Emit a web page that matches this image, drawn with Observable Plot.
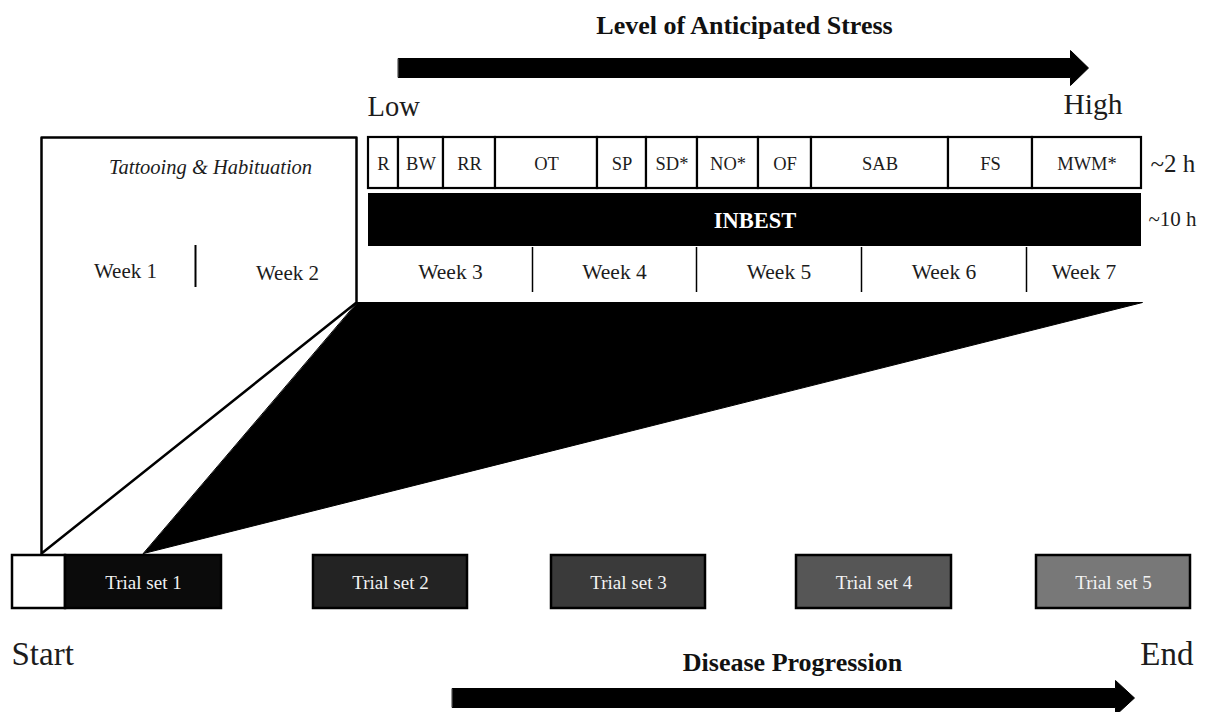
<!DOCTYPE html>
<html><head><meta charset="utf-8">
<script src="https://cdn.jsdelivr.net/npm/d3@7"></script>
<script src="https://cdn.jsdelivr.net/npm/@observablehq/plot@0.6"></script>
<style>body{margin:0;background:#fff;} svg{display:block;}</style>
</head><body><div id="chart"></div>
<script>
// ---- content ----
const stressTests = ["R","BW","RR","OT","SP","SD*","NO*","OF","SAB","FS","MWM*"];
const earlyWeeks = ["Week 1","Week 2"];
const lateWeeks = ["Week 3","Week 4","Week 5","Week 6","Week 7"];
const trialSets = ["Trial set 1","Trial set 2","Trial set 3","Trial set 4","Trial set 5"];
const trialShades = ["#0b0b0b","#232323","#3a3a3a","#565656","#787878"];
const stressLabels = ["Low","High"];
const progressLabels = ["Start","End"];
const durations = ["~2 h","~10 h"];
const battery = "INBEST";
const phase = "Tattooing & Habituation";
const stressTitle = "Level of Anticipated Stress";
const progressTitle = "Disease Progression";

// ---- layout (pixel frame) ----
const stressEdges = [368,398,443,495,597,646,697,758,811,948,1032,1141];
const weekEdges = [368,532,696,861,1026,1141];
const trialX = [[65,221],[313,467],[551,705],[796,951],[1036,1190]];

const stressBoxes = stressTests.map((t,i)=>({t,x1:stressEdges[i],x2:stressEdges[i+1]}));
const weekCells = lateWeeks.map((t,i)=>({t,x1:weekEdges[i],x2:weekEdges[i+1]}));
const trials = trialSets.map((t,i)=>({t,x1:trialX[i][0],x2:trialX[i][1],fill:trialShades[i]}));

const poly = (pts,id)=>pts.map(([x,y])=>({x,y,id}));
const shapes = [
  ...poly([[398,58],[1070,58],[1070,50],[1088,67.5],[1070,85],[1070,77],[398,77]],"a1"),
  ...poly([[452,688],[1115,688],[1115,680],[1134,697.5],[1115,715],[1115,707],[452,707]],"a2"),
  ...poly([[357,302],[1142,302],[143,553]],"tri")
];

const serif = "'Liberation Serif','Times New Roman',serif";
const ink = "#1c1c1c";

const chart = Plot.plot({
  width:1210, height:712, margin:0,
  x:{domain:[0,1210], range:[0,1210], axis:null},
  y:{domain:[0,712], range:[0,712], axis:null},
  style:{fontFamily:serif, background:"#fff"},
  marks:[
    // block arrows and black wedge
    Plot.line(shapes,{x:"x",y:"y",z:"id",fill:"#000",stroke:"#000",strokeWidth:1,curve:"linear-closed"}),
    // left phase box (open bottom)
    Plot.line([{x:41,y:553},{x:41,y:137},{x:356,y:137},{x:356,y:302},{x:41,y:553}],{x:"x",y:"y",stroke:"#000",strokeWidth:2.5}),
    Plot.ruleX([195],{y1:245,y2:287,stroke:"#000",strokeWidth:2}),
    Plot.text([phase],{x:210,y:167,text:d=>d,fontStyle:"italic",fontSize:20.5,fill:ink}),
    Plot.text(earlyWeeks,{x:[125,287],y:[271,273],text:d=>d,fontSize:21,fill:ink}),
    // stress tests row
    Plot.rect(stressBoxes,{x1:"x1",x2:"x2",y1:137,y2:188,fill:"#fff",stroke:"#000",strokeWidth:2.2}),
    Plot.text(stressBoxes,{x:d=>(d.x1+d.x2)/2,y:164,text:"t",fontSize:18.5,fill:ink}),
    // INBEST bar
    Plot.rect([battery],{x1:368,x2:1141,y1:193,y2:246,fill:"#000"}),
    Plot.text([battery],{x:(368+1141)/2,y:220,text:d=>d,fontSize:22.5,fontWeight:"bold",fill:"#fff"}),
    // weeks 3-7
    Plot.ruleX(weekEdges.slice(1,-1),{y1:247,y2:292,stroke:"#000",strokeWidth:1.5}),
    Plot.text(weekCells,{x:d=>(d.x1+d.x2)/2,y:272,text:"t",fontSize:21.5,fill:ink}),
    // durations
    Plot.text([durations[0]],{x:1150,y:163,text:d=>d,textAnchor:"start",fontSize:25,fill:ink}),
    Plot.text([durations[1]],{x:1148,y:219,text:d=>d,textAnchor:"start",fontSize:21,fill:ink}),
    // stress labels
    Plot.text([stressLabels[0]],{x:367,y:106,text:d=>d,textAnchor:"start",fontSize:28.5,fill:ink}),
    Plot.text([stressLabels[1]],{x:1122,y:104,text:d=>d,textAnchor:"end",fontSize:29.5,fill:ink}),
    Plot.text([stressTitle],{x:744,y:25,text:d=>d,fontSize:26,fontWeight:"bold",fill:"#111"}),
    // trial sets
    Plot.rect([0],{x1:12,x2:65,y1:555,y2:608,fill:"#fff",stroke:"#000",strokeWidth:2.5}),
    Plot.rect(trials,{x1:"x1",x2:"x2",y1:555,y2:608,fill:"fill",stroke:"#000",strokeWidth:2.5}),
    Plot.text(trials,{x:d=>(d.x1+d.x2)/2,y:582,text:"t",fontSize:19,fill:"#f2f2f2"}),
    // progression labels
    Plot.text([progressLabels[0]],{x:11,y:654,text:d=>d,textAnchor:"start",fontSize:33,fill:ink}),
    Plot.text([progressLabels[1]],{x:1193,y:654,text:d=>d,textAnchor:"end",fontSize:33,fill:ink}),
    Plot.text([progressTitle],{x:792,y:662,text:d=>d,fontSize:26,fontWeight:"bold",fill:"#111"})
  ]
});
document.getElementById("chart").append(chart);
</script>
</body></html>
